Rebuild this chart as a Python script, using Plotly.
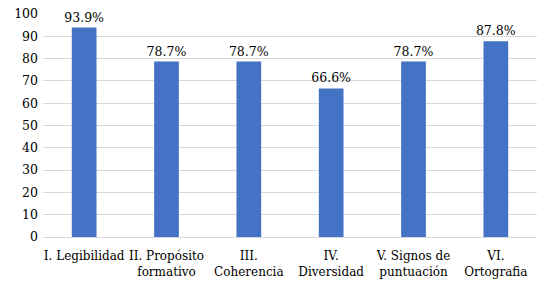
import plotly.graph_objects as go

categories = ["I. Legibilidad", "II. Propósito<br>formativo", "III.<br>Coherencia",
              "IV.<br>Diversidad", "V. Signos de<br>puntuación", "VI.<br>Ortografia"]
values = [93.9, 78.7, 78.7, 66.6, 78.7, 87.8]
labels = ["93.9%", "78.7%", "78.7%", "66.6%", "78.7%", "87.8%"]
y_ticks = [0, 10, 20, 30, 40, 50, 60, 70, 80, 90, 100]

font_family = "DejaVu Serif"

fig = go.Figure(go.Bar(
    x=categories, y=values, text=labels, textposition="outside",
    marker_color="#4472C4", cliponaxis=False, constraintext="none",
    textfont=dict(family=font_family, size=12.5, color="#000000"),
))
fig.update_layout(
    template="none",
    width=542, height=288,
    margin=dict(l=43, r=5, t=14, b=51),
    paper_bgcolor="white", plot_bgcolor="white",
    bargap=0.7, showlegend=False,
    font=dict(family=font_family, size=12, color="#000000"),
)
fig.update_yaxes(range=[0, 100], tickvals=y_ticks, showgrid=True, gridcolor="#d9d9d9",
                 gridwidth=1, zeroline=False, ticks="", tickfont=dict(family=font_family, size=12.5),
                 showline=False, automargin=False, ticklabelstandoff=4)
fig.update_xaxes(showline=True, linecolor="#d9d9d9", ticks="", automargin=False, tickangle=0,
                 tickfont=dict(family=font_family, size=12), ticklabelstandoff=8)
fig.write_html("out.html", config={"displayModeBar": False},
               post_script="document.body.style.margin='0';")
